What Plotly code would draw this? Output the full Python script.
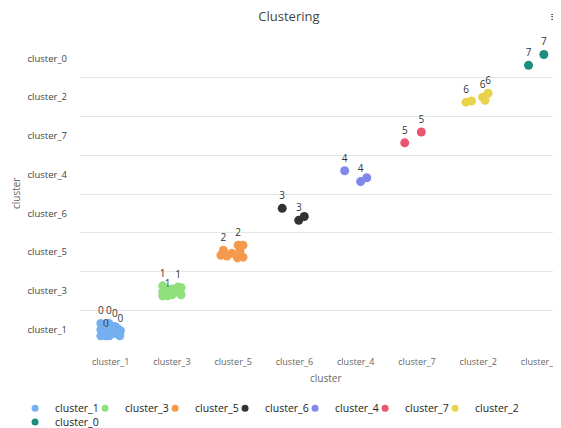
import plotly.graph_objects as go

# Axis category order (left-to-right on x, bottom-to-top on y)
categories = ["cluster_1", "cluster_3", "cluster_5", "cluster_6",
              "cluster_4", "cluster_7", "cluster_2", "cluster_0"]

# Cluster id shown as the point label
cluster_ids = ["0", "1", "2", "3", "4", "5", "6", "7"]

colors = ["#74aff0", "#90e07e", "#f59a4c", "#333333",
          "#8088ea", "#ea566f", "#e9d24c", "#1f8d7e"]

# Point positions (category units); flag = label shown
cluster_1_x = [-0.16, -0.03, 0.07, 0.16, -0.08, -0.16, -0.16, -0.02, -0.02, 0.08, 0.15, -0.11, 0.11]
cluster_1_y = [0.16, 0.16, 0.08, -0.03, -0.16, 0.0, -0.16, 0.0, -0.16, -0.10, -0.16, -0.05, 0.03]
cluster_1_lab = [1, 1, 1, 1, 1, 0, 0, 0, 0, 0, 0, 0, 0]

cluster_3_x = [0.85, 1.10, 0.93, 0.85, 0.85, 1.0, 1.0, 1.15, 1.15, 1.07, 0.93]
cluster_3_y = [1.13, 1.10, 0.87, 0.97, 0.87, 1.05, 0.90, 1.08, 0.90, 0.97, 1.03]
cluster_3_lab = [1, 1, 1, 0, 0, 0, 0, 0, 0, 0, 0]

cluster_5_x = [1.84, 2.08, 1.80, 1.90, 1.98, 2.16, 2.11, 2.16, 2.07]
cluster_5_y = [2.05, 2.18, 1.92, 1.90, 1.97, 2.18, 2.03, 1.87, 1.85]
cluster_5_lab = [1, 1, 0, 0, 0, 0, 0, 0, 0]

cluster_6_x = [2.80, 3.07, 3.16]
cluster_6_y = [3.13, 2.82, 2.92]
cluster_6_lab = [1, 1, 0]

cluster_4_x = [3.82, 4.08, 4.18]
cluster_4_y = [4.10, 3.82, 3.92]
cluster_4_lab = [1, 1, 0]

cluster_7_x = [4.80, 5.07]
cluster_7_y = [4.82, 5.10]
cluster_7_lab = [1, 1]

cluster_2_x = [5.80, 5.89, 6.07, 6.11, 6.16]
cluster_2_y = [5.87, 5.90, 6.00, 5.92, 6.10]
cluster_2_lab = [1, 0, 1, 0, 1]

cluster_0_x = [6.82, 7.07]
cluster_0_y = [6.82, 7.10]
cluster_0_lab = [1, 1]

series_x = [cluster_1_x, cluster_3_x, cluster_5_x, cluster_6_x,
            cluster_4_x, cluster_7_x, cluster_2_x, cluster_0_x]
series_y = [cluster_1_y, cluster_3_y, cluster_5_y, cluster_6_y,
            cluster_4_y, cluster_7_y, cluster_2_y, cluster_0_y]
series_lab = [cluster_1_lab, cluster_3_lab, cluster_5_lab, cluster_6_lab,
              cluster_4_lab, cluster_7_lab, cluster_2_lab, cluster_0_lab]

FONT = "Open Sans"

fig = go.Figure()
for name, cid, col, xs, ys, labs in zip(categories, cluster_ids, colors,
                                        series_x, series_y, series_lab):
    fig.add_trace(go.Scatter(
        x=xs, y=ys, mode="markers+text",
        text=[cid if f else "" for f in labs],
        textposition="top center",
        textfont=dict(family=FONT, size=10, color="#333333"),
        marker=dict(size=9, color=col),
        name=name, showlegend=False, cliponaxis=False,
    ))

# legend entries (small dots): first row of seven, second row with the last one
n = len(categories)
for i, (name, col) in enumerate(zip(categories, colors)):
    kw = {}
    if i < n - 2:
        kw["legendwidth"] = 25
    fig.add_trace(go.Scatter(
        x=[None], y=[None], mode="markers",
        marker=dict(size=7, color=col),
        name=name, showlegend=True,
        legend="legend" if i < n - 1 else "legend2",
        **kw,
    ))

grid_vals = [i - 0.5 for i in range(len(categories) + 1)]

legend_font = dict(family=FONT, size=10.5, color="#222222")

fig.update_layout(
    width=553, height=420,
    margin=dict(l=72, r=0, t=31, b=79, autoexpand=False),
    paper_bgcolor="white", plot_bgcolor="white",
    font=dict(family=FONT, size=10, color="#555555"),
    title=dict(text="Clustering", x=0.508, xref="container", xanchor="center",
               y=1 - 8 / 420, yref="container", yanchor="middle",
               font=dict(family=FONT, size=13, color="#444444")),
    xaxis=dict(range=[-0.5, 7.35], tickvals=list(range(len(categories))),
               ticktext=categories, showgrid=False, zeroline=False,
               showline=False, ticks="", ticklabelstandoff=6,
               automargin=False,
               tickfont=dict(family=FONT, size=9, color="#666666"),
               fixedrange=True),
    yaxis=dict(range=[-0.5, 7.5], tickvals=list(range(len(categories))),
               ticktext=categories, showgrid=False, zeroline=False,
               showline=False, ticks="", ticklabelstandoff=12,
               automargin=False,
               tickfont=dict(family=FONT, size=9.5, color="#444444"),
               minor=dict(tickvals=grid_vals, showgrid=True,
                          gridcolor="#e6e6e6", gridwidth=1),
               fixedrange=True),
    legend=dict(orientation="h", x=-0.135, xanchor="left",
                y=-0.144, yanchor="top", font=legend_font,
                bgcolor="rgba(0,0,0,0)",
                entrywidthmode="pixels", itemwidth=30, tracegroupgap=0),
    legend2=dict(orientation="h", x=-0.135, xanchor="left",
                 y=-0.189, yanchor="top", font=legend_font,
                 bgcolor="rgba(0,0,0,0)",
                 entrywidthmode="pixels", itemwidth=30, tracegroupgap=0),
    annotations=[
        dict(text="cluster", x=3.5, xref="x", y=-0.094, yref="paper",
             showarrow=False, yanchor="middle",
             font=dict(family=FONT, size=10, color="#666666")),
        dict(text="cluster", x=-0.133, xref="paper", y=0.5, yref="paper",
             textangle=-90, showarrow=False, xanchor="center",
             font=dict(family=FONT, size=10, color="#666666")),
        dict(text="≡", x=0.9896, xref="paper", y=1.071, yref="paper",
             xanchor="center", yanchor="middle", showarrow=False,
             font=dict(family="DejaVu Sans", size=13, color="#444444")),
    ],
)

fig.write_html("out.html")
